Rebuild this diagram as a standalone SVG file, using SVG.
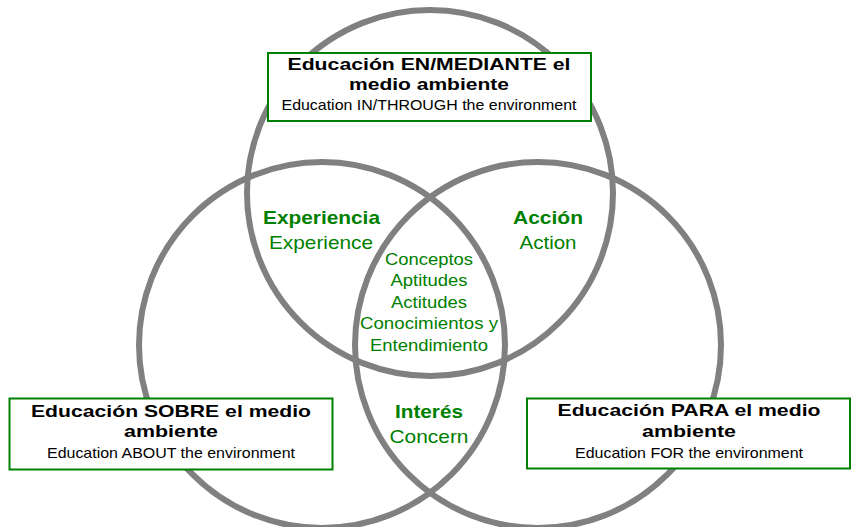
<svg xmlns="http://www.w3.org/2000/svg" width="852" height="527" viewBox="0 0 852 527">
<style>
.ring{fill:none;stroke:#808080;stroke-width:6}
.box{fill:#ffffff;stroke:#008000;stroke-width:2}
text{font-family:"Liberation Sans",Arial,sans-serif;text-anchor:middle}
.hb{font-size:17px;font-weight:bold;fill:#000000}
.hn{font-size:15px;fill:#000000}
.gb{font-size:19px;font-weight:bold;fill:#008000}
.gn{font-size:19px;fill:#008000}
.gc{font-size:17px;fill:#008000}
</style>
<rect x="0" y="0" width="852" height="527" fill="#ffffff"/>
<g id="circle-top"><circle class="ring" cx="430" cy="193" r="183"/></g>
<g id="circle-left"><circle class="ring" cx="322" cy="345" r="183"/></g>
<g id="circle-right"><circle class="ring" cx="538" cy="345" r="183"/></g>

<g id="box-top">
<rect class="box" x="268" y="53" width="323" height="68"/>
<text class="hb" x="429" y="70" textLength="283" lengthAdjust="spacingAndGlyphs">Educación EN/MEDIANTE el</text>
<text class="hb" x="429" y="89.5" textLength="160" lengthAdjust="spacingAndGlyphs">medio ambiente</text>
<text class="hn" x="429" y="110" textLength="295" lengthAdjust="spacingAndGlyphs">Education IN/THROUGH the environment</text>
</g>

<g id="box-left">
<rect class="box" x="9.5" y="398.5" width="323" height="71"/>
<text class="hb" x="171" y="417" textLength="280" lengthAdjust="spacingAndGlyphs">Educación SOBRE el medio</text>
<text class="hb" x="171" y="437" textLength="94" lengthAdjust="spacingAndGlyphs">ambiente</text>
<text class="hn" x="171" y="458" textLength="248" lengthAdjust="spacingAndGlyphs">Education ABOUT the environment</text>
</g>

<g id="box-right">
<rect class="box" x="527" y="398.5" width="323" height="70"/>
<text class="hb" x="689" y="416" textLength="263" lengthAdjust="spacingAndGlyphs">Educación PARA el medio</text>
<text class="hb" x="689" y="437" textLength="94" lengthAdjust="spacingAndGlyphs">ambiente</text>
<text class="hn" x="689" y="458" textLength="228" lengthAdjust="spacingAndGlyphs">Education FOR the environment</text>
</g>

<g id="label-experiencia">
<text class="gb" x="321.5" y="223.5" textLength="117" lengthAdjust="spacingAndGlyphs">Experiencia</text>
<text class="gn" x="321" y="249" textLength="104" lengthAdjust="spacingAndGlyphs">Experience</text>
</g>

<g id="label-accion">
<text class="gb" x="548" y="223.5" textLength="70" lengthAdjust="spacingAndGlyphs">Acción</text>
<text class="gn" x="548" y="249" textLength="57" lengthAdjust="spacingAndGlyphs">Action</text>
</g>

<g id="label-interes">
<text class="gb" x="429" y="418" textLength="68" lengthAdjust="spacingAndGlyphs">Interés</text>
<text class="gn" x="429" y="443" textLength="79" lengthAdjust="spacingAndGlyphs">Concern</text>
</g>

<g id="label-center">
<text class="gc" x="429" y="265" textLength="88" lengthAdjust="spacingAndGlyphs">Conceptos</text>
<text class="gc" x="429" y="286" textLength="77" lengthAdjust="spacingAndGlyphs">Aptitudes</text>
<text class="gc" x="429" y="307.5" textLength="76" lengthAdjust="spacingAndGlyphs">Actitudes</text>
<text class="gc" x="429" y="329" textLength="138" lengthAdjust="spacingAndGlyphs">Conocimientos y</text>
<text class="gc" x="429" y="350.5" textLength="118" lengthAdjust="spacingAndGlyphs">Entendimiento</text>
</g>
</svg>
